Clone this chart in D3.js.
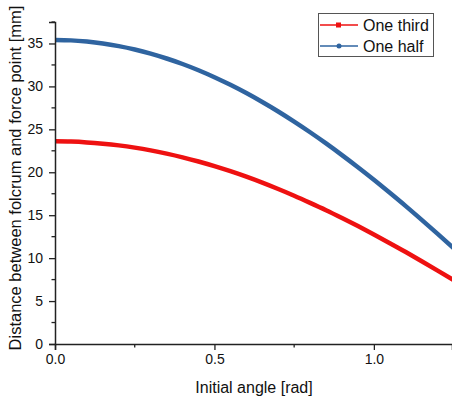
<!DOCTYPE html>
<html>
<head>
<meta charset="utf-8">
<script src="https://cdn.jsdelivr.net/npm/d3@7"></script>
<style>
  body { margin: 0; background: #fff; }
  text { font-family: "Liberation Sans", Arial, sans-serif; fill: #111; }
</style>
</head>
<body>
<svg width="452" height="399"></svg>
<script>
const angles = [0, 0.05, 0.1, 0.15, 0.2, 0.25, 0.3, 0.35, 0.4, 0.45, 0.5, 0.55, 0.6,
  0.65, 0.7, 0.75, 0.8, 0.85, 0.9, 0.95, 1.0, 1.05, 1.1, 1.15, 1.2, 1.25];
const oneThird = [23.60, 23.57, 23.48, 23.33, 23.13, 22.87, 22.55, 22.17, 21.74, 21.25,
  20.71, 20.12, 19.48, 18.79, 18.05, 17.27, 16.44, 15.58, 14.67, 13.73, 12.75, 11.74,
  10.71, 9.64, 8.55, 7.44];
const oneHalf = [35.40, 35.36, 35.22, 35.00, 34.69, 34.30, 33.82, 33.25, 32.61, 31.88,
  31.07, 30.18, 29.22, 28.18, 27.08, 25.90, 24.66, 23.36, 22.00, 20.59, 19.13, 17.61,
  16.06, 14.46, 12.83, 11.16];
const xTicks = [0, 0.5, 1.0];
const yTicks = [0, 5, 10, 15, 20, 25, 30, 35];

const svg = d3.select("svg");
const mLeft = 55, mRight = 452, mTop = 22, mBottom = 344;

const x = d3.scaleLinear().domain([0, 1.245]).range([mLeft, mRight]);
const y = d3.scaleLinear().domain([0, 37.5]).range([mBottom, mTop]);

svg.append("clipPath").attr("id", "clip")
  .append("rect").attr("x", mLeft).attr("y", mTop).attr("width", mRight - mLeft).attr("height", mBottom - mTop);

const series = [
  { name: "One third", values: oneThird, color: "#ee1111", marker: "square" },
  { name: "One half", values: oneHalf, color: "#2f64a0", marker: "circle" }
];

const line = d3.line()
  .x((d, i) => x(angles[i]))
  .y(d => y(d))
  .curve(d3.curveMonotoneX);

const plot = svg.append("g").attr("clip-path", "url(#clip)");
series.forEach(s => {
  plot.append("path")
    .attr("d", line(s.values))
    .attr("fill", "none")
    .attr("stroke", s.color)
    .attr("stroke-width", 4.5);
});

// axes
const xAxis = d3.axisBottom(x).tickValues(xTicks).tickFormat(d3.format(".1f")).tickSize(6).tickPadding(4);
const yAxis = d3.axisLeft(y).tickValues(yTicks).tickFormat(d3.format("d")).tickSize(6).tickPadding(6);

const gx = svg.append("g").attr("transform", `translate(0,${mBottom})`).call(xAxis);
const gy = svg.append("g").attr("transform", `translate(${mLeft},0)`).call(yAxis);

// minor ticks
svg.append("g").selectAll("line")
  .data([0.25, 0.75])
  .enter().append("line")
  .attr("x1", d => x(d)).attr("x2", d => x(d))
  .attr("y1", mBottom).attr("y2", mBottom + 3.5)
  .attr("stroke", "#222").attr("stroke-width", 1.3);
svg.append("g").selectAll("line")
  .data([2.5, 7.5, 12.5, 17.5, 22.5, 27.5, 32.5, 37.5])
  .enter().append("line")
  .attr("x1", mLeft).attr("x2", mLeft - 3.5)
  .attr("y1", d => y(d)).attr("y2", d => y(d))
  .attr("stroke", "#222").attr("stroke-width", 1.3);

[gx, gy].forEach(g => {
  g.select(".domain").attr("stroke", "#222").attr("stroke-width", 1.5);
  g.selectAll(".tick line").attr("stroke", "#222").attr("stroke-width", 1.3);
  g.selectAll(".tick text").attr("font-size", 14).style("font-family", "Liberation Sans, Arial, sans-serif").attr("fill", "#111");
});

// axis titles
svg.append("text")
  .attr("x", 254).attr("y", 393)
  .attr("text-anchor", "middle")
  .attr("font-size", 16)
  .text("Initial angle [rad]");
svg.append("text")
  .attr("transform", "translate(21,178) rotate(-90)")
  .attr("text-anchor", "middle")
  .attr("font-size", 16.5)
  .text("Distance between folcrum and force point [mm]");

// legend
const legend = svg.append("g");
legend.append("rect")
  .attr("x", 318.5).attr("y", 13.5).attr("width", 115).attr("height", 43)
  .attr("fill", "#fff").attr("stroke", "#555").attr("stroke-width", 1);
series.forEach((s, i) => {
  const ly = 25 + i * 21;
  legend.append("line")
    .attr("x1", 320).attr("x2", 358).attr("y1", ly).attr("y2", ly)
    .attr("stroke", s.color).attr("stroke-width", 1.5);
  if (s.marker === "square") {
    legend.append("rect").attr("x", 336).attr("y", ly - 2.5).attr("width", 5).attr("height", 5).attr("fill", s.color);
  } else {
    legend.append("circle").attr("cx", 339).attr("cy", ly).attr("r", 2.5).attr("fill", s.color);
  }
  legend.append("text")
    .attr("x", 363).attr("y", ly + 6)
    .attr("font-size", 16)
    .text(s.name);
});
</script>
</body>
</html>
